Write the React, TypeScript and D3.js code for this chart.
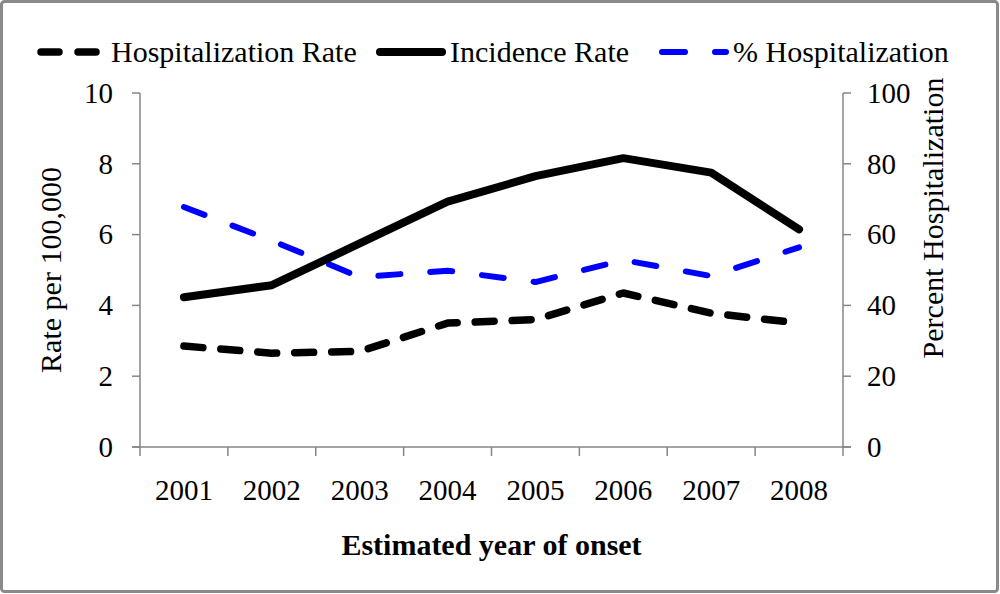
import { useRef, useEffect } from "react";
import * as d3 from "d3";

const years = ["2001", "2002", "2003", "2004", "2005", "2006", "2007", "2008"];
const hospitalizationRate = [2.85, 2.65, 2.7, 3.5, 3.6, 4.35, 3.78, 3.5];
const incidenceRate = [4.23, 4.57, 5.75, 6.93, 7.65, 8.16, 7.75, 6.15];
const percentHospitalization = [67.8, 58.3, 48, 49.8, 46.6, 52.8, 48.3, 56.4];
const leftTicks = [0, 2, 4, 6, 8, 10];
const rightTicks = [0, 20, 40, 60, 80, 100];

const FONT = "'Liberation Serif', 'Times New Roman', serif";
const AXIS = "#868686";

export default function App() {
  const svgRef = useRef<SVGSVGElement>(null);

  useEffect(() => {
    if (!svgRef.current) return;
    const svg = d3.select(svgRef.current);
    svg.selectAll("*").remove();

    const left = 140;
    const right = 843;
    const top = 93;
    const bottom = 447;

    const x = d3.scaleBand<string>().domain(years).range([left, right]).padding(0);
    const cx = (d: string) => (x(d) ?? 0) + x.bandwidth() / 2;
    const yL = d3.scaleLinear().domain([0, 10]).range([bottom, top]);
    const yR = d3.scaleLinear().domain([0, 100]).range([bottom, top]);

    // frame
    svg
      .append("rect")
      .attr("x", 1.5)
      .attr("y", 1.5)
      .attr("width", 996)
      .attr("height", 590)
      .attr("rx", 3)
      .attr("fill", "#fff")
      .attr("stroke", "#8a8a8a")
      .attr("stroke-width", 3);

    const g = svg.append("g").attr("font-family", FONT).attr("fill", "#000");

    // axes lines
    const axes = g.append("g").attr("stroke", AXIS).attr("stroke-width", 1.5).attr("fill", "none");
    axes.append("line").attr("x1", left).attr("x2", left).attr("y1", top).attr("y2", bottom);
    axes.append("line").attr("x1", right).attr("x2", right).attr("y1", top).attr("y2", bottom);
    axes.append("line").attr("x1", left - 8).attr("x2", right + 8).attr("y1", bottom).attr("y2", bottom);

    leftTicks.forEach((t) => {
      axes.append("line").attr("x1", left - 8).attr("x2", left).attr("y1", yL(t)).attr("y2", yL(t));
    });
    rightTicks.forEach((t) => {
      axes.append("line").attr("x1", right).attr("x2", right + 8).attr("y1", yR(t)).attr("y2", yR(t));
    });
    const bounds = years.map((d) => x(d) ?? 0).concat([right]);
    bounds.forEach((bx) => {
      axes.append("line").attr("x1", bx).attr("x2", bx).attr("y1", bottom).attr("y2", bottom + 9);
    });

    // tick labels
    g.append("g")
      .selectAll("text")
      .data(leftTicks)
      .join("text")
      .attr("x", 113)
      .attr("y", (d) => yL(d))
      .attr("dy", "0.34em")
      .attr("text-anchor", "end")
      .attr("font-size", 29)
      .text((d) => d);

    g.append("g")
      .selectAll("text")
      .data(rightTicks)
      .join("text")
      .attr("x", 867)
      .attr("y", (d) => yR(d))
      .attr("dy", "0.34em")
      .attr("text-anchor", "start")
      .attr("font-size", 29)
      .text((d) => d);

    g.append("g")
      .selectAll("text")
      .data(years)
      .join("text")
      .attr("x", (d) => cx(d))
      .attr("y", 500)
      .attr("text-anchor", "middle")
      .attr("font-size", 29)
      .text((d) => d);

    // axis titles
    g.append("text")
      .attr("x", (left + right) / 2)
      .attr("y", 555)
      .attr("text-anchor", "middle")
      .attr("font-size", 30)
      .attr("font-weight", "bold")
      .text("Estimated year of onset");

    g.append("text")
      .attr("transform", `translate(61,270) rotate(-90)`)
      .attr("text-anchor", "middle")
      .attr("font-size", 30)
      .text("Rate per 100,000");

    g.append("text")
      .attr("transform", `translate(943,218) rotate(-90)`)
      .attr("text-anchor", "middle")
      .attr("font-size", 30)
      .text("Percent Hospitalization");

    // lines
    const lineL = d3
      .line<number>()
      .x((_, i) => cx(years[i]))
      .y((d) => yL(d));
    const lineR = d3
      .line<number>()
      .x((_, i) => cx(years[i]))
      .y((d) => yR(d));

    const plot = g.append("g").attr("fill", "none").attr("stroke-linecap", "round").attr("stroke-linejoin", "round");

    plot
      .append("path")
      .datum(percentHospitalization)
      .attr("stroke", "#0000ff")
      .attr("stroke-width", 6)
      .attr("stroke-dasharray", "22,30")
      .attr("d", lineR);

    plot
      .append("path")
      .datum(incidenceRate)
      .attr("stroke", "#000")
      .attr("stroke-width", 8)
      .attr("d", lineL);

    plot
      .append("path")
      .datum(hospitalizationRate)
      .attr("stroke", "#000")
      .attr("stroke-width", 7.5)
      .attr("stroke-dasharray", "19,18")
      .attr("d", lineL);

    // legend
    const ly = 52;
    const leg = g.append("g").attr("fill", "none").attr("stroke-linecap", "round");
    leg
      .append("line")
      .attr("x1", 41)
      .attr("x2", 96)
      .attr("y1", ly)
      .attr("y2", ly)
      .attr("stroke", "#000")
      .attr("stroke-width", 7.5)
      .attr("stroke-dasharray", "18,19");
    leg
      .append("line")
      .attr("x1", 380)
      .attr("x2", 442)
      .attr("y1", ly)
      .attr("y2", ly)
      .attr("stroke", "#000")
      .attr("stroke-width", 8);
    leg
      .append("line")
      .attr("x1", 662)
      .attr("x2", 726)
      .attr("y1", ly)
      .attr("y2", ly)
      .attr("stroke", "#0000ff")
      .attr("stroke-width", 6)
      .attr("stroke-dasharray", "23,30");

    const legendText = [
      { x: 111, label: "Hospitalization Rate" },
      { x: 450, label: "Incidence Rate" },
      { x: 733, label: "% Hospitalization" },
    ];
    g.append("g")
      .selectAll("text")
      .data(legendText)
      .join("text")
      .attr("x", (d) => d.x)
      .attr("y", 62)
      .attr("font-size", 30)
      .text((d) => d.label);
  }, []);

  return (
    <svg
      ref={svgRef}
      width={1000}
      height={594}
      style={{ position: "absolute", left: 0, top: 0, display: "block" }}
    />
  );
}
